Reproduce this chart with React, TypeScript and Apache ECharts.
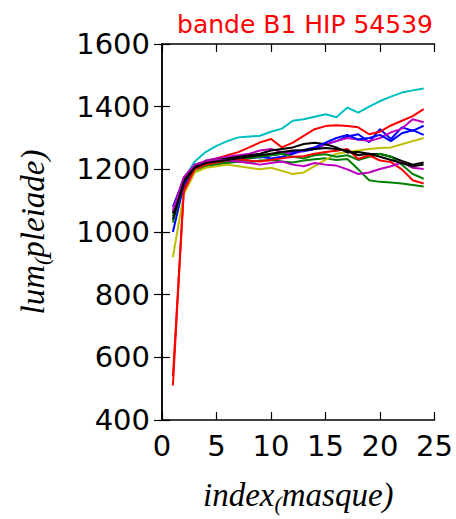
import React, { useEffect, useRef } from "react";
import * as echarts from "echarts";

const xIndex = Array.from({ length: 24 }, (_, i) => i + 1);

const blueA = [1080, 1170, 1215, 1225, 1228, 1232, 1236, 1240, 1238, 1245, 1250, 1255, 1258, 1265, 1280, 1290, 1305, 1312, 1287, 1328, 1297, 1334, 1323, 1339];
const greenA = [1050, 1150, 1190, 1210, 1215, 1220, 1225, 1222, 1228, 1230, 1225, 1222, 1228, 1232, 1235, 1230, 1233, 1200, 1165, 1160, 1158, 1155, 1150, 1145];
const redA = [510, 1140, 1210, 1225, 1235, 1245, 1255, 1270, 1286, 1297, 1270, 1285, 1307, 1328, 1338, 1341, 1338, 1334, 1312, 1320, 1340, 1355, 1370, 1392];
const cyanA = [1040, 1170, 1225, 1255, 1275, 1290, 1302, 1305, 1307, 1320, 1330, 1355, 1360, 1368, 1376, 1366, 1397, 1381, 1400, 1418, 1432, 1445, 1452, 1458];
const magentaA = [1060, 1170, 1210, 1228, 1235, 1240, 1245, 1250, 1260, 1265, 1255, 1250, 1260, 1270, 1280, 1290, 1300, 1295, 1290, 1300, 1318, 1330, 1360, 1350];
const yellowA = [920, 1120, 1190, 1205, 1210, 1215, 1210, 1205, 1200, 1205, 1195, 1185, 1190, 1210, 1230, 1250, 1255, 1260, 1265, 1268, 1270, 1280, 1290, 1300];
const blackA = [1060, 1165, 1210, 1225, 1230, 1235, 1240, 1245, 1250, 1260, 1265, 1270, 1281, 1285, 1280, 1270, 1254, 1255, 1250, 1249, 1240, 1227, 1215, 1222];
const blueB = [1000, 1150, 1205, 1220, 1225, 1230, 1228, 1235, 1240, 1235, 1240, 1250, 1262, 1270, 1285, 1300, 1310, 1295, 1300, 1310, 1290, 1315, 1325, 1310];
const greenB = [1030, 1160, 1200, 1215, 1220, 1225, 1230, 1235, 1240, 1245, 1250, 1240, 1235, 1245, 1248, 1240, 1245, 1230, 1240, 1250, 1240, 1215, 1185, 1170];
const redB = [540, 1130, 1200, 1215, 1222, 1228, 1232, 1228, 1225, 1230, 1235, 1240, 1242, 1250, 1255, 1259, 1265, 1233, 1245, 1228, 1223, 1200, 1165, 1155];
const magentaB = [1070, 1175, 1215, 1225, 1230, 1228, 1225, 1220, 1215, 1220, 1225, 1215, 1210, 1220, 1215, 1212, 1200, 1185, 1190, 1201, 1210, 1222, 1205, 1201];
const blackB = [1040, 1160, 1205, 1220, 1225, 1230, 1235, 1240, 1245, 1250, 1255, 1260, 1262, 1265, 1268, 1265, 1260, 1245, 1250, 1240, 1230, 1220, 1210, 1215];

const seriesList: [number[], string][] = [
  [blueA, "#0000ff"],
  [greenA, "#008000"],
  [redA, "#ff0000"],
  [cyanA, "#00bfbf"],
  [magentaA, "#bf00bf"],
  [yellowA, "#bfbf00"],
  [blackA, "#000000"],
  [blueB, "#0000ff"],
  [greenB, "#008000"],
  [redB, "#ff0000"],
  [magentaB, "#bf00bf"],
  [blackB, "#000000"],
];

const yTicks = [400, 600, 800, 1000, 1200, 1400, 1600];
const xTicks = [0, 5, 10, 15, 20, 25];
const titleText = "bande B1 HIP 54539";

export default function App() {
  const ref = useRef<HTMLDivElement>(null);
  useEffect(() => {
    if (!ref.current) return;
    const chart = echarts.init(ref.current, undefined, { renderer: "svg" });
    const axisLine = { show: true, lineStyle: { color: "#000", width: 1.5 } };
    const tick = { show: true, inside: true, length: 8, lineStyle: { color: "#000", width: 1.2 } };
    const serifRich = {
      a: { fontFamily: "Liberation Serif", fontStyle: "italic" as const, fontSize: 33, color: "#000" },
      s: { fontFamily: "Liberation Serif", fontStyle: "italic" as const, fontSize: 22, color: "#000", verticalAlign: "bottom" as const, padding: [16, 0, 0, 0] },
    };
    chart.setOption({
      animation: false,
      backgroundColor: "#fff",
      title: {
        text: titleText,
        left: 300,
        textAlign: "center",
        top: 7,
        textStyle: { color: "#ff0000", fontFamily: "DejaVu Sans", fontWeight: "normal", fontSize: 25 },
      },
      grid: { left: 162, right: 18, top: 44, bottom: 97, containLabel: false },
      xAxis: [
        {
          type: "value",
          min: 0,
          max: 25,
          interval: 5,
          axisLine,
          axisTick: tick,
          splitLine: { show: false },
          axisLabel: { color: "#000", fontFamily: "DejaVu Sans", fontSize: 29, margin: 11, formatter: (v: number) => (xTicks.includes(v) ? String(v) : "") },
          name: "{a|index}{s|(}{a|masque)}",
          nameLocation: "middle",
          nameGap: 56,
          nameTextStyle: { rich: serifRich },
        },
        {
          type: "value",
          position: "top",
          min: 0,
          max: 25,
          interval: 5,
          axisLine,
          axisTick: tick,
          splitLine: { show: false },
          axisLabel: { show: false },
        },
      ],
      yAxis: [
        {
          type: "value",
          min: 400,
          max: 1600,
          interval: 200,
          axisLine,
          axisTick: tick,
          splitLine: { show: false },
          axisLabel: { color: "#000", fontFamily: "DejaVu Sans", fontSize: 29, margin: 12, formatter: (v: number) => (yTicks.includes(v) ? String(v) : "") },
          name: "{a|lum}{s|(}{a|pleiade)}",
          nameLocation: "middle",
          nameRotate: 90,
          nameGap: 110,
          nameTextStyle: { rich: serifRich },
        },
        {
          type: "value",
          position: "right",
          min: 400,
          max: 1600,
          interval: 200,
          axisLine,
          axisTick: tick,
          splitLine: { show: false },
          axisLabel: { show: false },
        },
      ],
      series: seriesList.map(([vals, color]) => ({
        type: "line",
        data: vals.map((v, i) => [xIndex[i], v]),
        showSymbol: false,
        symbol: "none",
        lineStyle: { color, width: 2 },
        itemStyle: { color },
        xAxisIndex: 0,
        yAxisIndex: 0,
      })),
    });
    return () => chart.dispose();
  }, []);
  return <div ref={ref} style={{ width: 456, height: 519, position: "absolute", left: 0, top: 0 }} />;
}
